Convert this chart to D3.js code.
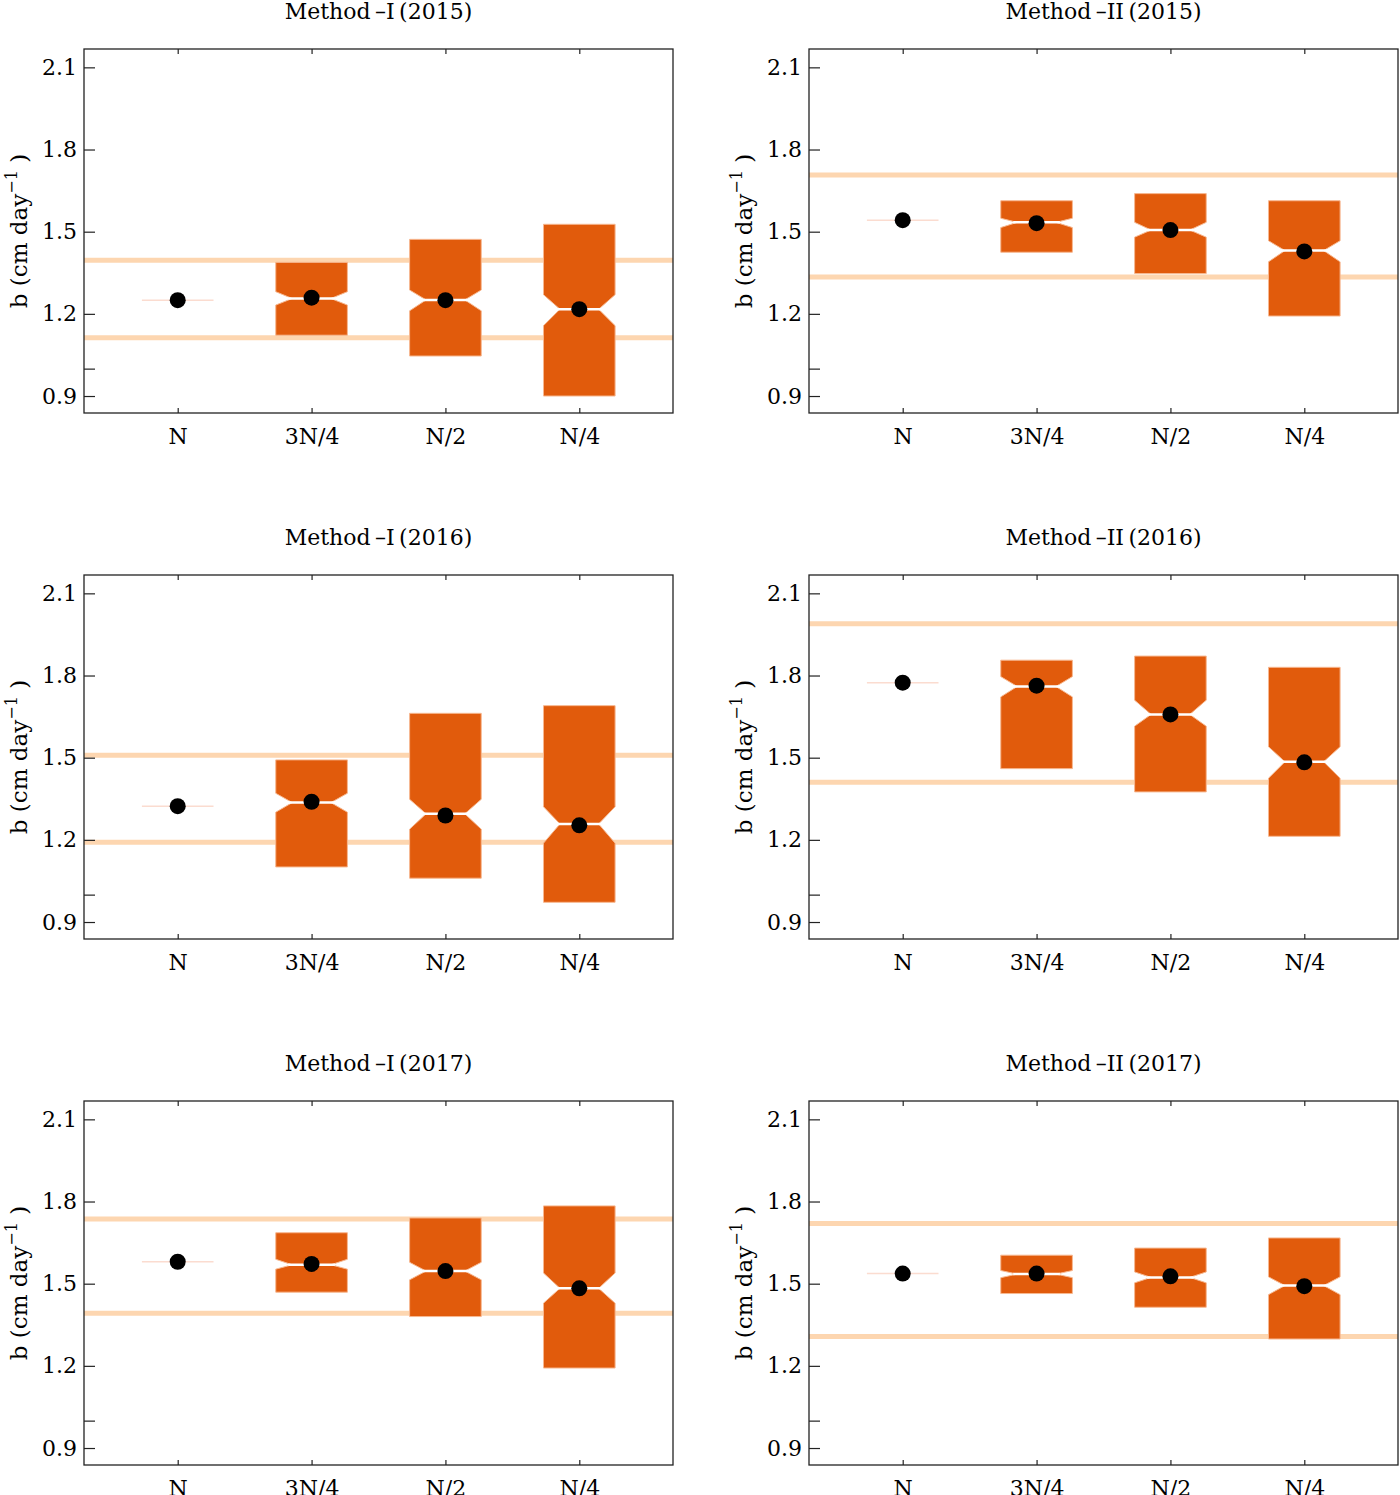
<!DOCTYPE html>
<html>
<head>
<meta charset="utf-8">
<script src="https://cdn.jsdelivr.net/npm/d3@7"></script>
<style>
  body { margin: 0; background: #fff; }
  text { font-family: "DejaVu Serif", serif; fill: #000; }
</style>
</head>
<body>
<div id="chart"></div>
<script>
// categories and tick labels
const categories = ["N", "3N/4", "N/2", "N/4"];
const panelTitles = [
  "Method\u2009\u2013I\u2009(2015)", "Method\u2009\u2013II\u2009(2015)",
  "Method\u2009\u2013I\u2009(2016)", "Method\u2009\u2013II\u2009(2016)",
  "Method\u2009\u2013I\u2009(2017)", "Method\u2009\u2013II\u2009(2017)"
];
const yTicks = [0.9, 1.0, 1.2, 1.5, 1.8, 2.1];
const yTickLabels = ["0.9", "", "1.2", "1.5", "1.8", "2.1"];

// box values per panel (N, 3N/4, N/2, N/4)
const boxLow = [
  [1.250, 1.122, 1.046, 0.900],
  [1.542, 1.425, 1.347, 1.192],
  [1.323, 1.101, 1.060, 0.972],
  [1.774, 1.460, 1.375, 1.213],
  [1.580, 1.469, 1.380, 1.192],
  [1.537, 1.464, 1.414, 1.298]
];
const boxHigh = [
  [1.250, 1.388, 1.472, 1.527],
  [1.542, 1.613, 1.639, 1.613],
  [1.323, 1.492, 1.662, 1.690],
  [1.774, 1.856, 1.871, 1.830],
  [1.580, 1.686, 1.740, 1.784],
  [1.537, 1.604, 1.630, 1.667]
];
const medians = [
  [1.250, 1.256, 1.251, 1.217],
  [1.542, 1.534, 1.506, 1.431],
  [1.323, 1.336, 1.295, 1.258],
  [1.774, 1.760, 1.658, 1.485],
  [1.580, 1.569, 1.546, 1.483],
  [1.537, 1.535, 1.523, 1.493]
];
const notchLow = [
  [1.250, 1.232, 1.211, 1.157],
  [1.542, 1.515, 1.480, 1.390],
  [1.323, 1.301, 1.239, 1.188],
  [1.774, 1.722, 1.615, 1.425],
  [1.580, 1.553, 1.514, 1.429],
  [1.537, 1.522, 1.503, 1.460]
];
const notchHigh = [
  [1.250, 1.281, 1.287, 1.270],
  [1.542, 1.549, 1.534, 1.467],
  [1.323, 1.370, 1.348, 1.321],
  [1.774, 1.796, 1.710, 1.540],
  [1.580, 1.589, 1.578, 1.539],
  [1.537, 1.548, 1.543, 1.525]
];
const means = [
  [1.250, 1.259, 1.250, 1.217],
  [1.542, 1.531, 1.506, 1.428],
  [1.323, 1.339, 1.289, 1.253],
  [1.774, 1.763, 1.658, 1.483],
  [1.580, 1.572, 1.546, 1.483],
  [1.537, 1.537, 1.527, 1.491]
];
// reference band levels per panel
const bandLow = [1.113, 1.335, 1.191, 1.410, 1.392, 1.307];
const bandHigh = [1.396, 1.707, 1.509, 1.989, 1.736, 1.720];

const width = 1400;
const height = 1495;
const plotW = 589;
const plotH = 364;
const colLeft = [84, 809];
const rowTop = [49, 575, 1101];

const boxColor = "#e15b0c";
const bandColor = "#fdd6b0";

const svg = d3.select("#chart")
  .append("svg")
  .attr("width", width)
  .attr("height", height);

const x = d3.scaleLinear().domain([0.3, 4.7]).range([0, plotW]);
const y = d3.scaleLinear().domain([0.838, 2.167]).range([plotH, 0]);

panelTitles.forEach((title, i) => {
  const g = svg.append("g")
    .attr("transform", `translate(${colLeft[i % 2]},${rowTop[Math.floor(i / 2)]})`);

  // reference bands
  g.selectAll("line.band")
    .data([bandLow[i], bandHigh[i]])
    .join("line")
    .attr("class", "band")
    .attr("x1", 0)
    .attr("x2", plotW)
    .attr("y1", d => y(d))
    .attr("y2", d => y(d))
    .style("stroke", bandColor)
    .style("stroke-width", 5);

  const hw = x(1.2675) - x(1);   // half box width
  const ww = hw * 0.54;          // half waist width

  categories.forEach((c, j) => {
    const cx = x(j + 1);
    const lo = boxLow[i][j], hi = boxHigh[i][j], med = medians[i][j];
    if (hi === lo) {
      // degenerate box: just an edge line
      g.append("line")
        .attr("x1", cx - hw).attr("x2", cx + hw)
        .attr("y1", y(med)).attr("y2", y(med))
        .style("stroke", "#fbdcd0")
        .style("stroke-width", 1.5);
    } else {
      const pts = [
        [cx - hw, y(hi)], [cx + hw, y(hi)],
        [cx + hw, y(notchHigh[i][j])], [cx + ww, y(med)],
        [cx + hw, y(notchLow[i][j])], [cx + hw, y(lo)],
        [cx - hw, y(lo)], [cx - hw, y(notchLow[i][j])],
        [cx - ww, y(med)], [cx - hw, y(notchHigh[i][j])]
      ];
      g.append("path")
        .attr("d", d3.line()(pts) + "Z")
        .style("fill", boxColor)
        .style("stroke", "#f7b890")
        .style("stroke-width", 1);
      // median line
      g.append("line")
        .attr("x1", cx - ww - 4).attr("x2", cx + ww + 4)
        .attr("y1", y(med)).attr("y2", y(med))
        .style("stroke", "#fff")
        .style("stroke-width", 2.5);
    }
  });

  // mean points
  g.selectAll("circle")
    .data(means[i])
    .join("circle")
    .attr("cx", (d, j) => x(j + 1))
    .attr("cy", d => y(d))
    .attr("r", 8)
    .style("fill", "#000");

  // axes
  const left = g.append("g")
    .call(d3.axisLeft(y).tickValues(yTicks).tickSize(-11).tickPadding(7)
      .tickFormat((d, k) => yTickLabels[k]));
  const bottom = g.append("g")
    .attr("transform", `translate(0,${plotH})`)
    .call(d3.axisBottom(x).tickValues([1, 2, 3, 4]).tickSize(-5).tickPadding(15)
      .tickFormat(d => categories[d - 1]));
  const top = g.append("g")
    .call(d3.axisTop(x).tickValues([1, 2, 3, 4]).tickSize(-5).tickFormat(""));
  [left, bottom, top].forEach(a => {
    a.select(".domain").remove();
    a.selectAll("line").style("stroke", "#222").style("stroke-width", 1.2);
    a.selectAll("text")
      .style("font-family", "DejaVu Serif")
      .style("font-size", "22px")
      .style("fill", "#000");
  });

  // frame
  g.append("rect")
    .attr("width", plotW)
    .attr("height", plotH)
    .style("fill", "none")
    .style("stroke", "#222")
    .style("stroke-width", 1.3);

  // title
  g.append("text")
    .attr("x", plotW / 2)
    .attr("y", -30)
    .attr("text-anchor", "middle")
    .style("font-size", "22px")
    .text(title);

  // y label
  const yl = g.append("text")
    .attr("transform", `translate(${27 - colLeft[0]},${plotH / 2}) rotate(-90)`)
    .attr("text-anchor", "middle")
    .style("font-size", "23px");
  yl.append("tspan").text("b (cm day");
  yl.append("tspan").attr("dy", -10).style("font-size", "16px").text("\u22121");
  yl.append("tspan").attr("dy", 10).text(" )");
});
</script>
</body>
</html>
